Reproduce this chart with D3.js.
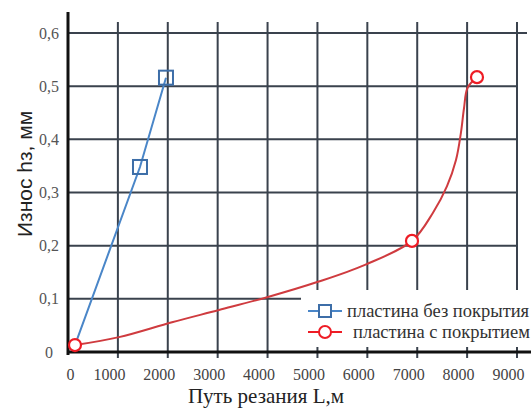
<!DOCTYPE html>
<html>
<head>
<meta charset="utf-8">
<script src="https://cdn.jsdelivr.net/npm/d3@7"></script>
<style>
  body { margin: 0; background: #fff; }
  svg { display: block; }
  .serif { font-family: "Liberation Serif", "Tinos", "DejaVu Serif", serif; }
  .sans { font-family: "Liberation Sans", Arial, sans-serif; }
</style>
</head>
<body>
<div id="chart"></div>
<script>
// data
const xTicks = [0, 1000, 2000, 3000, 4000, 5000, 6000, 7000, 8000, 9000];
const yTicks = [0, 0.1, 0.2, 0.3, 0.4, 0.5, 0.6];
const yTickLabels = ["0", "0,1", "0,2", "0,3", "0,4", "0,5", "0,6"];

// пластина без покрытия
const bareL = [140, 1443, 1964];
const bareH = [0.013, 0.348, 0.516];

// пластина с покрытием (curve points + markers)
const coatL = [140, 1022, 2085, 3027, 3990, 5011, 5953, 6895, 7316, 7597, 7777, 7877, 7937, 8010, 8198];
const coatH = [0.013, 0.028, 0.056, 0.079, 0.103, 0.132, 0.164, 0.209, 0.262, 0.312, 0.361, 0.413, 0.458, 0.497, 0.517];
const coatMarkers = [0, 7, 14]; // indices with circle markers

const legendLabels = ["пластина без покрытия", "пластина с покрытием"];

const width = 531, height = 410;

let svg = d3.select("#chart").append("svg")
  .attr("width", width)
  .attr("height", height);

// set the ranges
let x = d3.scaleLinear().domain([0, 9000]).range([68, 517]);
let y = d3.scaleLinear().domain([0, 0.6]).range([352, 33]);

const gridColor = "#3a424d";

// vertical grid
svg.append("g")
  .selectAll("line")
  .data(xTicks.slice(1))
  .enter().append("line")
  .attr("x1", d => x(d)).attr("x2", d => x(d))
  .attr("y1", 22).attr("y2", 358)
  .style("stroke", gridColor)
  .style("stroke-width", 2);

// horizontal grid
svg.append("g")
  .selectAll("line")
  .data(yTicks.slice(1))
  .enter().append("line")
  .attr("x1", x(0))
  .attr("x2", d => d === 0.6 ? 527 : x(9000))
  .attr("y1", d => y(d)).attr("y2", d => y(d))
  .style("stroke", gridColor)
  .style("stroke-width", 2);

// legend background hides the grid under it
svg.append("rect")
  .attr("x", 301).attr("y", 290)
  .attr("width", 230).attr("height", 57)
  .style("fill", "#fff");

// axes lines
svg.append("line")
  .attr("x1", x(0)).attr("x2", x(0))
  .attr("y1", 12).attr("y2", 355)
  .style("stroke", "#111").style("stroke-width", 3);
svg.append("line")
  .attr("x1", x(0) - 1).attr("x2", 531)
  .attr("y1", y(0)).attr("y2", y(0))
  .style("stroke", "#111").style("stroke-width", 3);

// X Axis labels
let xAxis = svg.append("g")
  .attr("transform", "translate(0," + y(0) + ")")
  .call(d3.axisBottom(x).tickValues(xTicks).tickSize(0).tickFormat(d3.format("d")));
xAxis.attr("font-family", null).attr("class", "serif");
xAxis.select(".domain").remove();
xAxis.selectAll("text")
  .attr("dx", d => d === 0 ? 2 : -9)
  .attr("y", 17)
  .attr("font-size", 16)
  .attr("fill", "#444");

// Y Axis labels
let yAxis = svg.append("g")
  .attr("transform", "translate(" + x(0) + ",0)")
  .call(d3.axisLeft(y).tickValues(yTicks).tickSize(0).tickFormat((d, i) => yTickLabels[i]));
yAxis.attr("font-family", null).attr("class", "serif");
yAxis.select(".domain").remove();
yAxis.selectAll("text")
  .attr("x", -19)
  .attr("dy", "0.32em")
  .attr("text-anchor", "middle")
  .attr("font-size", 16)
  .attr("fill", "#555");

// axis titles
svg.append("text")
  .attr("class", "serif")
  .attr("x", 266).attr("y", 403)
  .attr("text-anchor", "middle")
  .attr("font-size", 21)
  .attr("fill", "#222")
  .text("Путь резания L,м");

svg.append("text")
  .attr("class", "sans")
  .attr("transform", "translate(32,174) rotate(-90)")
  .attr("text-anchor", "middle")
  .attr("font-size", 21)
  .attr("fill", "#222")
  .text("Износ hз, мм");

const blue = "#4a86c8", blueMark = "#3d6ea8";
const red = "#cf3b3f", redMark = "#ee1c25";

let bare = bareL.map((d, i) => ({ x: d, y: bareH[i] }));
let coat = coatL.map((d, i) => ({ x: d, y: coatH[i] }));

// define the lines
let line = d3.line()
  .x(d => x(d.x))
  .y(d => y(d.y));

svg.append("path")
  .attr("d", line(bare))
  .style("fill", "none")
  .style("stroke", blue)
  .style("stroke-width", 2);

svg.append("path")
  .attr("d", line.curve(d3.curveCatmullRom.alpha(0.5))(coat))
  .style("fill", "none")
  .style("stroke", red)
  .style("stroke-width", 2);

// blue squares (the first one is under the red circle)
svg.selectAll(".sq")
  .data(bare.slice(1))
  .enter().append("rect")
  .attr("class", "sq")
  .attr("x", d => x(d.x) - 7)
  .attr("y", d => y(d.y) - 7)
  .attr("width", 14).attr("height", 14)
  .style("fill", "none")
  .style("stroke", blueMark)
  .style("stroke-width", 2);

// red circles
svg.selectAll(".dot")
  .data(coatMarkers.map(i => coat[i]))
  .enter().append("circle")
  .attr("class", "dot")
  .attr("r", 6)
  .attr("cx", d => x(d.x))
  .attr("cy", d => y(d.y))
  .style("fill", "#fff")
  .style("stroke", redMark)
  .style("stroke-width", 2.2);

// legend
let legend = svg.append("g");
let ly = [311, 332];

legend.append("line")
  .attr("x1", 308).attr("x2", 342).attr("y1", ly[0]).attr("y2", ly[0])
  .style("stroke", blue).style("stroke-width", 2);
legend.append("rect")
  .attr("x", 319).attr("y", ly[0] - 6).attr("width", 12).attr("height", 12)
  .style("fill", "#fff").style("stroke", blueMark).style("stroke-width", 2);

legend.append("line")
  .attr("x1", 308).attr("x2", 342).attr("y1", ly[1]).attr("y2", ly[1])
  .style("stroke", redMark).style("stroke-width", 2);
legend.append("circle")
  .attr("cx", 325).attr("cy", ly[1]).attr("r", 6)
  .style("fill", "#fff").style("stroke", redMark).style("stroke-width", 2);

legend.selectAll(".lt")
  .data(legendLabels)
  .enter().append("text")
  .attr("class", "lt serif")
  .attr("x", (d, i) => i === 0 ? 347 : 353)
  .attr("y", (d, i) => ly[i])
  .attr("dy", "0.32em")
  .attr("font-size", 18.5)
  .attr("fill", "#333")
  .text(d => d);
</script>
</body>
</html>
